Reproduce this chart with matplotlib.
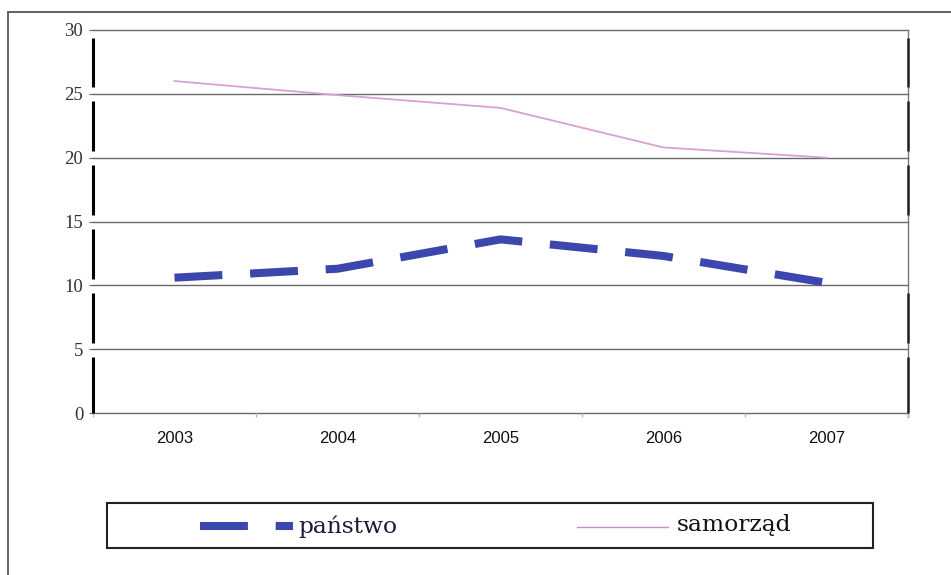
import matplotlib
matplotlib.use("Agg")
import matplotlib.pyplot as plt
from matplotlib.lines import Line2D
from matplotlib.patches import Rectangle

years = ["2003", "2004", "2005", "2006", "2007"]
panstwo = [10.6, 11.3, 13.6, 12.3, 10.2]
samorzad = [26.0, 24.9, 23.9, 20.8, 20.0]
yticks = [0, 5, 10, 15, 20, 25, 30]
labels = ["państwo", "samorząd"]

plt.rcParams["lines.scale_dashes"] = False

W, H = 951, 575
fig = plt.figure(figsize=(W / 100, H / 100), dpi=100)
fig.patch.set_facecolor("white")

def fx(px):
    return px / W

def fy(py):
    return 1 - py / H

# outer border
fig.add_artist(Rectangle((fx(8), fy(600)), 2.0, fy(12) - fy(600),
                         transform=fig.transFigure, fill=False,
                         edgecolor="#555555", linewidth=1.3))

ax = fig.add_axes([fx(93), fy(413), fx(908) - fx(93), fy(30) - fy(413)])
x = list(range(len(years)))
ax.set_xlim(-0.5, len(years) - 0.5)
ax.set_ylim(0, 30)
for s in ax.spines.values():
    s.set_visible(False)

# gridlines
for t in yticks:
    ax.axhline(t, color="#6a6a6a", linewidth=1.0, zorder=1, clip_on=False)
# right thin border
ax.plot([len(years) - 0.5] * 2, [-0.35, 30], color="#777777", linewidth=1.0,
        clip_on=False, zorder=1)
# thick black segments on left and right edges
for k in range(6):
    lo, hi = 5 * k + 0.5, 5 * k + 4.4
    if k == 0:
        lo = 0
    ax.plot([-0.5, -0.5], [lo, hi], color="black", linewidth=2.2,
            solid_capstyle="butt", clip_on=False, zorder=3)
    if k != 2:
        ax.plot([len(years) - 0.5] * 2, [lo, hi], color="#222222",
                linewidth=1.8, solid_capstyle="butt", clip_on=False, zorder=3)

# data lines
ax.plot(x, samorzad, color="#D8A0D4", linewidth=1.3, zorder=4)
ax.plot(x, panstwo, color="#3B47AD", linewidth=5.8,
        dashes=(34.5, 20.0), dash_capstyle="butt", zorder=5)

# ticks
ax.set_yticks(yticks)
ax.set_yticklabels([str(t) for t in yticks], family="Liberation Serif",
                   fontsize=13.5, color="#333333")
ax.tick_params(axis="y", length=3, width=0.8, color="#666666", pad=4)
ax.set_xticks(x)
ax.set_xticklabels(years, family="Liberation Sans", fontsize=12, color="#111111")
ax.tick_params(axis="x", which="major", length=0, pad=13)
ax.set_xticks([i - 0.5 for i in range(len(years) + 1)], minor=True)
ax.tick_params(axis="x", which="minor", length=3, width=1, color="#bbbbbb")

# legend box (manual)
fig.add_artist(Rectangle((fx(107), fy(548)), fx(873) - fx(107), fy(503) - fy(548),
                         transform=fig.transFigure, fill=False,
                         edgecolor="#222222", linewidth=1.5))
ly = fy(526)
fig.add_artist(Line2D([fx(200), fx(293)], [ly, ly], transform=fig.transFigure,
                      color="#3B47AD", linewidth=5.8, dashes=(34.5, 20.0),
                      dash_capstyle="butt"))
fig.text(fx(298), fy(527), labels[0], family="DejaVu Serif", fontsize=16.8,
         color="#1a1a3a", va="center", ha="left")
fig.add_artist(Line2D([fx(577), fx(668)], [ly - 0.002, ly - 0.002],
                      transform=fig.transFigure, color="#C890C8", linewidth=1.0))
fig.text(fx(677), fy(525), labels[1], family="DejaVu Serif", fontsize=16.8,
         color="#111111", va="center", ha="left")

fig.savefig("out.png", dpi=100, facecolor="white")
